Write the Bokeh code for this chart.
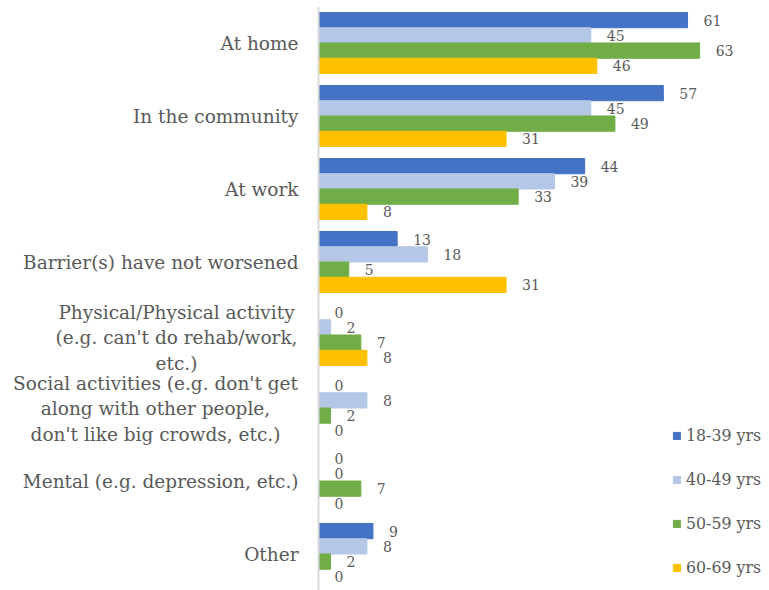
from bokeh.plotting import figure
from bokeh.models import ColumnDataSource, FactorRange, Range1d, Span, Legend, LegendItem
from bokeh.transform import dodge
from bokeh.core.properties import value
from bokeh.embed import file_html
from bokeh.resources import INLINE

categories = [
    "At home",
    "In the community",
    "At work",
    "Barrier(s) have not worsened",
    "Physical/Physical activity (e.g. can't do rehab/work, etc.)",
    "Social activities (e.g. don't get along with other people, don't like big crowds, etc.)",
    "Mental (e.g. depression, etc.)",
    "Other",
]
category_labels = [
    "At home",
    "In the community",
    "At work",
    "Barrier(s) have not worsened",
    "Physical/Physical activity\n(e.g. can't do rehab/work,\netc.)",
    "Social activities (e.g. don't get\nalong with other people,\ndon't like big crowds, etc.)",
    "Mental (e.g. depression, etc.)",
    "Other",
]
series_names = ["18-39 yrs", "40-49 yrs", "50-59 yrs", "60-69 yrs"]
s18_39 = [61, 57, 44, 13, 0, 0, 0, 9]
s40_49 = [45, 45, 39, 18, 2, 8, 0, 8]
s50_59 = [63, 49, 33, 5, 7, 2, 7, 2]
s60_69 = [46, 31, 8, 31, 8, 0, 0, 0]
series_values = [s18_39, s40_49, s50_59, s60_69]
colors = ["#4472C4", "#B4C7E7", "#70AD47", "#FFC000"]

FONT = "DejaVu Serif"
TXT = "#595959"
W, H = 769, 590
AXIS_PX = 318
PX_PER_UNIT = 6.05

p = figure(
    width=W, height=H,
    y_range=FactorRange(factors=list(reversed(categories)), range_padding=0),
    x_range=Range1d(-AXIS_PX / PX_PER_UNIT, (W - AXIS_PX) / PX_PER_UNIT),
    x_axis_location=None, y_axis_location=None,
    output_backend="svg", toolbar_location=None, min_border=0,
)
p.min_border_top = 6
p.grid.visible = False
p.outline_line_color = None

data = {"cat": categories, "label": category_labels}
for i, vals in enumerate(series_values):
    data[f"v{i}"] = vals
    data[f"t{i}"] = [str(v) for v in vals]
src = ColumnDataSource(data)

bar_h = 0.209
offsets = [1.5 * bar_h, 0.5 * bar_h, -0.5 * bar_h, -1.5 * bar_h]
renderers = []
for i in range(4):
    r = p.hbar(y=dodge("cat", offsets[i], range=p.y_range), left=0, right=f"v{i}",
               height=bar_h, fill_color=colors[i], line_color=colors[i], source=src)
    renderers.append(r)
    p.text(x=f"v{i}", y=dodge("cat", offsets[i], range=p.y_range), text=f"t{i}",
           x_offset=16, text_align="left", text_baseline="middle",
           text_font=value(FONT), text_font_size="14px", text_color=TXT, source=src)

p.add_layout(Span(location=0, dimension="height", line_color="#d9d9d9", line_width=2))

single_idx = [0, 1, 2, 3, 6, 7]
src_single = ColumnDataSource({"cat": [categories[i] for i in single_idx],
                               "label": [category_labels[i] for i in single_idx]})
p.text(x=0, y="cat", text="label", x_offset=-20, text_align="right", text_baseline="middle",
       text_font=value(FONT), text_font_size="18.5px", text_color=TXT, source=src_single)

src_multi = ColumnDataSource({"cat": [categories[4], categories[5]],
                              "label": [category_labels[4], category_labels[5]],
                              "xo": [-142, -163], "yo": [3, 1]})
p.text(x=0, y="cat", text="label", x_offset="xo", y_offset="yo",
       text_align="center", text_baseline="middle", text_line_height=1.2,
       text_font=value(FONT), text_font_size="18.5px", text_color=TXT, source=src_multi)

legend = Legend(
    items=[LegendItem(label=series_names[i], renderers=[renderers[i]]) for i in range(4)],
    location=(672, 13), orientation="vertical",
    glyph_width=9, glyph_height=9, label_standoff=5, spacing=24, label_height=20,
    padding=0, margin=0, border_line_color=None, background_fill_alpha=0,
    label_text_font=FONT, label_text_font_size="15.8px", label_text_color=TXT,
)
p.add_layout(legend)

open("out.html", "w").write(file_html(p, INLINE))
